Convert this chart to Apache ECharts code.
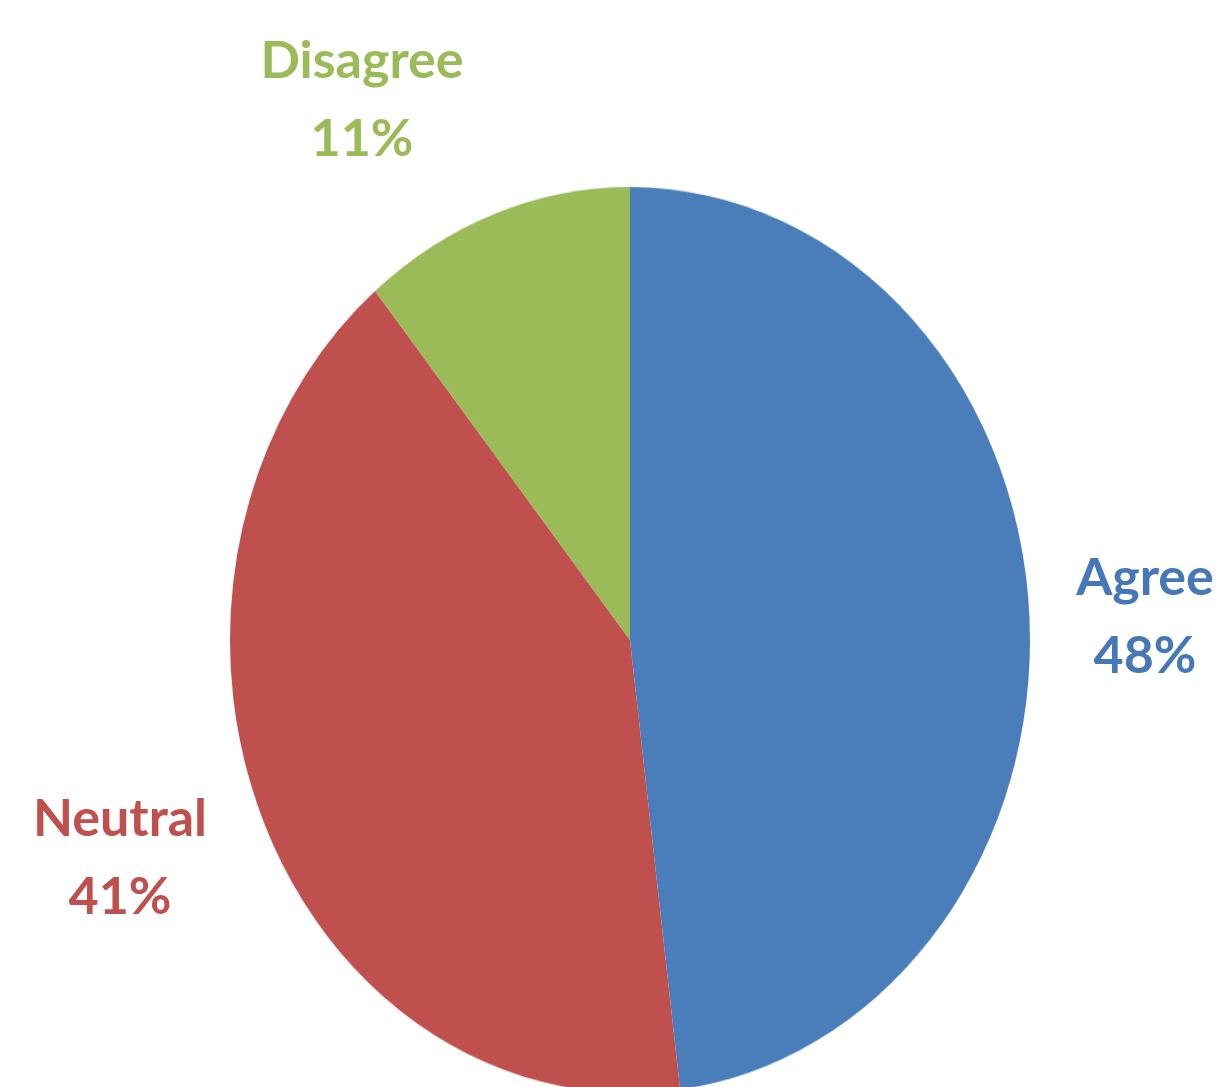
<!DOCTYPE html>
<html><head><meta charset="utf-8">
<script src="https://cdn.jsdelivr.net/npm/echarts@6/dist/echarts.min.js"></script>
<style>
html,body{margin:0;padding:0;background:#fff;overflow:hidden;}
#wrap{position:relative;width:1216px;height:1087px;overflow:hidden;}
#pie{position:absolute;left:0;top:0;width:1216px;height:1087px;transform-origin:630px 640px;transform:scaleY(1.1325);}
#lab{position:absolute;left:0;top:0;width:1216px;height:1087px;}
</style>
</head><body><div id="wrap"><div id="pie"></div><div id="lab"></div></div>
<script>
const categories = ['Agree', 'Neutral', 'Disagree'];
const values = [48, 41, 11];
const colors = ['#4a7ebb', '#c0504d', '#9bbb59'];
const labelColors = ['#4677b8', '#c0504d', '#9bbb59'];

// Layer 1: the slices (the original pie is drawn slightly taller than wide)
const pieChart = echarts.init(document.getElementById('pie'), null, {renderer: 'canvas'});
pieChart.setOption({
  animation: false,
  backgroundColor: '#ffffff',
  series: [{
    type: 'pie',
    center: [630, 640],
    radius: [0, 400],
    startAngle: 90,
    clockwise: true,
    silent: true,
    data: categories.map((c, i) => ({name: c, value: values[i], itemStyle: {color: colors[i]}})),
    label: {show: false},
    labelLine: {show: false}
  }]
});

// Layer 2: the category / percent labels
const labelAnchors = [[1145, 617], [120, 858], [362, 100]];
const labChart = echarts.init(document.getElementById('lab'), null, {renderer: 'canvas'});
labChart.setOption({
  animation: false,
  series: [{
    type: 'pie',
    center: [630, 640],
    radius: [0, 400],
    startAngle: 90,
    clockwise: true,
    silent: true,
    avoidLabelOverlap: false,
    itemStyle: {color: 'rgba(0,0,0,0)'},
    data: categories.map((c, i) => ({
      name: c, value: values[i],
      itemStyle: {color: 'rgba(0,0,0,0)'},
      label: {color: labelColors[i]}
    })),
    label: {
      show: true,
      position: 'outside',
      formatter: p => p.name + '\n' + p.value + '%',
      fontFamily: 'Lato',
      fontWeight: 'bold',
      fontSize: 52,
      lineHeight: 78,
      align: 'center'
    },
    labelLine: {show: false},
    labelLayout: p => ({
      x: labelAnchors[p.dataIndex][0],
      y: labelAnchors[p.dataIndex][1],
      align: 'center',
      verticalAlign: 'middle',
      hideOverlap: false
    })
  }]
});
</script></body></html>
